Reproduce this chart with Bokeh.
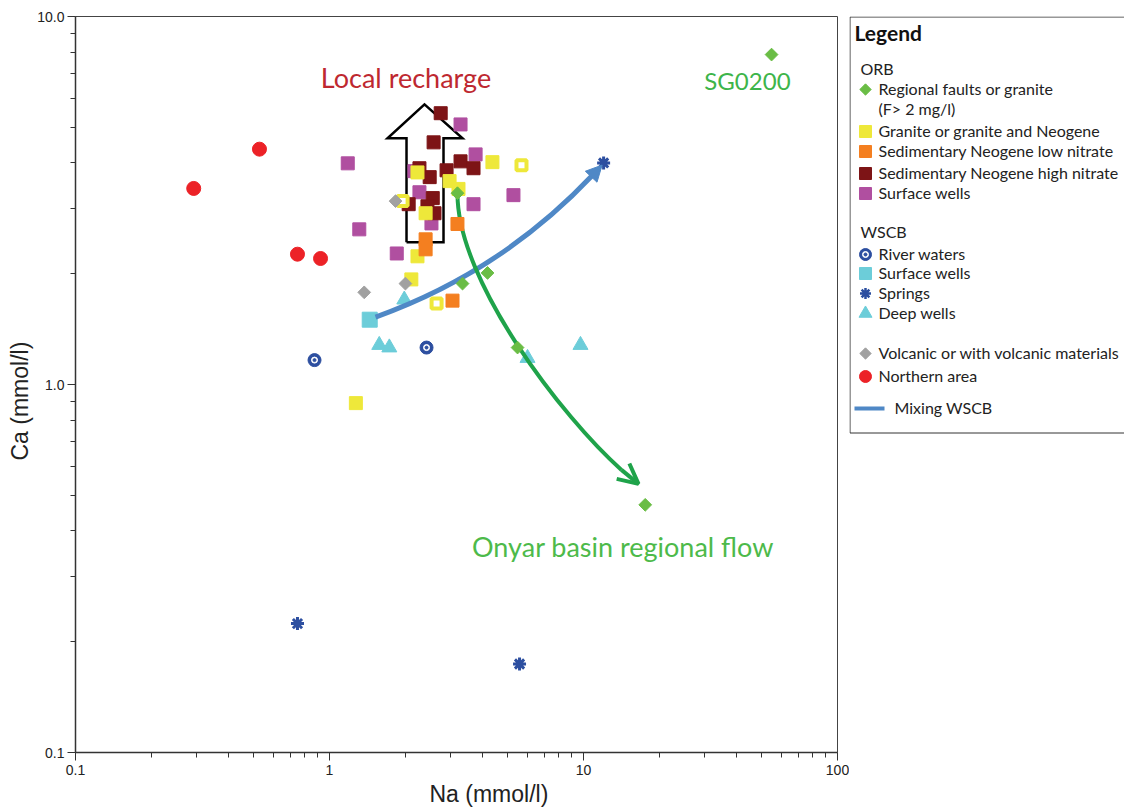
import math
from bokeh.plotting import figure
from bokeh.layouts import row
from bokeh.models import (Range1d, FixedTicker, CustomJSTickFormatter, Label, Arrow,
                          NormalHead, OpenHead, Title)
from bokeh.core.properties import value
from bokeh.embed import file_html
from bokeh.resources import INLINE

# ---------------- data (Na, Ca in mmol/l) ----------------
regional_na = [55.0, 17.5, 3.19, 4.19, 3.34, 5.50]
regional_ca = [7.88, 0.471, 3.31, 2.01, 1.88, 1.26]

granite_na = [1.27, 2.22, 2.10, 2.22, 2.97, 4.38, 3.22, 2.39]
granite_ca = [0.89, 2.23, 1.93, 3.77, 3.57, 4.02, 3.40, 2.92]

granite_open_na = [5.70, 2.64, 1.94]
granite_open_ca = [3.94, 1.66, 3.15]

sed_low_na = [3.19, 2.39, 2.39, 3.05]
sed_low_ca = [2.73, 2.48, 2.33, 1.69]

sed_high_na = [2.74, 2.57, 3.28, 3.69, 2.89, 2.26, 2.48, 2.55, 2.05, 2.43, 2.59]
sed_high_ca = [5.46, 4.55, 4.04, 3.87, 3.82, 3.87, 3.66, 3.21, 3.09, 3.05, 2.92]

orb_surface_na = [1.18, 1.31, 1.84, 2.26, 2.52, 3.28, 3.76, 3.69, 5.30, 2.16]
orb_surface_ca = [3.99, 2.64, 2.27, 3.33, 2.74, 5.09, 4.22, 3.09, 3.27, 3.80]

river_na = [0.873, 2.41]
river_ca = [1.165, 1.26]

wscb_surface_na = [1.44]
wscb_surface_ca = [1.50]

springs_na = [0.748, 5.60, 12.0]
springs_ca = [0.224, 0.174, 4.0]

deep_na = [1.97, 1.57, 1.72, 6.02, 9.73]
deep_ca = [1.70, 1.28, 1.26, 1.18, 1.28]

volcanic_na = [1.37, 1.99, 1.82]
volcanic_ca = [1.78, 1.88, 3.15]

northern_na = [0.292, 0.530, 0.748, 0.922]
northern_ca = [3.41, 4.36, 2.26, 2.20]

# mixing WSCB curve: start, control, end, arrow tip
mix_na = [1.518, 4.734, 10.85, 11.84]
mix_ca = [1.525, 2.020, 3.702, 3.947]

# Onyar basin regional flow curve: start, control 1, control 2, end, arrow tip
flow_na = [3.191, 3.191, 8.287, 14.11, 16.46]
flow_ca = [3.289, 1.910, 0.812, 0.586, 0.537]

# local recharge block arrow outline
recharge_na = [2.010, 2.010, 1.692, 2.366, 3.339, 2.811, 2.811, 2.010]
recharge_ca = [2.436, 4.667, 4.667, 5.770, 4.667, 4.667, 2.436, 2.436]

x_ticks = [0.1, 1, 10, 100]
y_ticks = [0.1, 1, 10]

# ---------------- colours ----------------
C_GREEN = "#6abd45"
C_YELLOW = "#eee83a"
C_ORANGE = "#f47f20"
C_DRED = "#7d1416"
C_MAG = "#b04fa0"
C_CYAN = "#6ccdd9"
C_DBLUE = "#2d4fa0"
C_GREY = "#a1a1a1"
C_RED = "#ec2227"
C_MIX = "#4f88c6"
C_FLOW = "#1fa34a"

FONT = "Lato"
AXFONT = "Liberation Sans"

p = figure(width=849, height=810, x_axis_type="log", y_axis_type="log",
           x_range=Range1d(0.1, 100), y_range=Range1d(0.1, 10),
           min_border_left=75, min_border_right=12, min_border_top=16,
           min_border_bottom=58, toolbar_location=None, output_backend="svg")
p.xgrid.visible = False
p.ygrid.visible = False
p.outline_line_color = "#444444"
p.outline_line_width = 1

minor_x = [m * d for d in (0.1, 1, 10) for m in range(2, 10)]
minor_y = [m * d for d in (0.1, 1) for m in range(2, 10)]
p.xaxis.ticker = FixedTicker(ticks=x_ticks, minor_ticks=minor_x)
p.yaxis.ticker = FixedTicker(ticks=y_ticks, minor_ticks=minor_y)
p.xaxis.formatter = CustomJSTickFormatter(code="return tick >= 1 ? tick.toFixed(0) : tick.toFixed(1);")
p.yaxis.formatter = CustomJSTickFormatter(code="return tick.toFixed(1);")
for ax in (p.xaxis, p.yaxis):
    ax.axis_line_color = "#333333"
    ax.axis_line_width = 1.5
    ax.major_tick_line_color = "#333333"
    ax.minor_tick_line_color = "#333333"
    ax.major_tick_in = 0
    ax.major_tick_out = 8
    ax.minor_tick_in = 0
    ax.minor_tick_out = 5
    ax.major_label_text_font = AXFONT
    ax.major_label_text_font_size = "14px"
    ax.major_label_text_color = "#222222"
p.xaxis.major_label_standoff = 4
p.yaxis.major_label_standoff = 3

# axis titles as offset titles (the reference places them off-centre)
p.add_layout(Title(text="Na (mmol/l)", align="left", offset=354, standoff=2,
                   text_font=AXFONT, text_font_size="23px", text_font_style="normal",
                   text_color="#222222"), "below")
p.add_layout(Title(text="Ca (mmol/l)", align="left", offset=292, standoff=4,
                   text_font=AXFONT, text_font_size="23px", text_font_style="normal",
                   text_color="#222222"), "left")

# markers drawn under the curves
p.scatter(deep_na, deep_ca, marker="triangle", size=15, color=C_CYAN)
p.scatter(wscb_surface_na, wscb_surface_ca, marker="square", size=15, color=C_CYAN)

# block arrow (local recharge)
p.line(recharge_na, recharge_ca, line_color="black", line_width=2.5, line_join="miter")

# curves
p.quadratic(x0=[mix_na[0]], y0=[mix_ca[0]], cx=[mix_na[1]], cy=[mix_ca[1]],
            x1=[mix_na[2]], y1=[mix_ca[2]], line_color=C_MIX, line_width=5)
p.add_layout(Arrow(x_start=mix_na[2], y_start=mix_ca[2], x_end=mix_na[3], y_end=mix_ca[3],
                   line_color=C_MIX, line_width=5,
                   end=NormalHead(size=16, fill_color=C_MIX, line_color=C_MIX, line_width=1)))
p.bezier(x0=[flow_na[0]], y0=[flow_ca[0]], cx0=[flow_na[1]], cy0=[flow_ca[1]],
         cx1=[flow_na[2]], cy1=[flow_ca[2]], x1=[flow_na[3]], y1=[flow_ca[3]],
         line_color=C_FLOW, line_width=4)
p.add_layout(Arrow(x_start=flow_na[3], y_start=flow_ca[3], x_end=flow_na[4], y_end=flow_ca[4],
                   line_color=C_FLOW, line_width=4,
                   end=OpenHead(size=20, line_color=C_FLOW, line_width=4)))

# points
p.scatter(orb_surface_na, orb_surface_ca, marker="square", size=13, color=C_MAG)
p.scatter(sed_high_na, sed_high_ca, marker="square", size=13, color=C_DRED)
p.scatter(granite_na, granite_ca, marker="square", size=13, color=C_YELLOW)
p.scatter(granite_open_na, granite_open_ca, marker="square", size=10, fill_color="white",
          line_color=C_YELLOW, line_width=4)
p.scatter(sed_low_na, sed_low_ca, marker="square", size=13, color=C_ORANGE)
p.scatter(regional_na, regional_ca, marker="square", angle=math.pi / 4, size=9, color=C_GREEN)
p.scatter(volcanic_na, volcanic_ca, marker="square", angle=math.pi / 4, size=9, color=C_GREY)
p.scatter(northern_na, northern_ca, marker="circle", size=14, color=C_RED)
p.scatter(river_na, river_ca, marker="circle", size=13, color=C_DBLUE)
p.scatter(river_na, river_ca, marker="circle", size=6, color="white")
p.scatter(river_na, river_ca, marker="circle", size=3, color=C_DBLUE)
p.scatter(springs_na, springs_ca, marker="asterisk", size=13, line_color=C_DBLUE, line_width=3)

# annotations
p.add_layout(Label(x=2.001, y=6.83, text="Local recharge", text_font=FONT, text_font_size="27px",
                   text_color="#be2830", text_align="center", text_baseline="alphabetic"))
p.add_layout(Label(x=44.2, y=6.70, text="SG0200", text_font=FONT, text_font_size="24px",
                   text_color="#3db54a", text_align="center", text_baseline="alphabetic"))
p.add_layout(Label(x=14.30, y=0.3622, text="Onyar basin regional flow", text_font=FONT,
                   text_font_size="27px", text_color="#4dba4a", text_align="center",
                   text_baseline="alphabetic"))

# ---------------- legend panel (pixel coordinates, frame aligned with main plot) ----------------
leg = figure(width=275, height=810, x_range=Range1d(849, 1124), y_range=Range1d(752, 16),
             min_border_left=0, min_border_right=0, min_border_top=16, min_border_bottom=58,
             toolbar_location=None, output_backend="svg",
             x_axis_location=None, y_axis_location=None, outline_line_color=None)
leg.xgrid.visible = False
leg.ygrid.visible = False
leg.line([1130, 849.5, 849.5, 1130], [16.5, 16.5, 432.5, 432.5], line_color="#333333", line_width=1)

leg.text([854], [32], text=["Legend"], text_font=value(FONT), text_font_size="21px",
         text_font_style="bold", text_color="#111111", text_baseline="middle")
leg.text([860, 860], [68, 231], text=["ORB", "WSCB"], text_font=value(FONT),
         text_font_size="16px", text_color="#222222", text_baseline="middle")

legend_labels = ["Regional faults or granite", "(F> 2 mg/l)", "Granite or granite and Neogene",
                 "Sedimentary Neogene low nitrate", "Sedimentary Neogene high nitrate",
                 "Surface wells", "River waters", "Surface wells", "Springs", "Deep wells",
                 "Volcanic or with volcanic materials", "Northern area"]
legend_rows = [88, 108, 130, 150, 172, 192, 253, 272, 292, 312, 352, 375]
leg.text([878] * len(legend_labels), legend_rows, text=legend_labels, text_font=value(FONT),
         text_font_size="16px", text_color="#222222", text_baseline="middle")
leg.text([894], [407], text=["Mixing WSCB"], text_font=value(FONT), text_font_size="16px",
         text_color="#222222", text_baseline="middle")

leg.scatter([865], [89], marker="square", angle=math.pi / 4, size=8, color=C_GREEN)
leg.scatter([865, 865, 865, 865], [131, 151, 173, 193], marker="square", size=12,
            color=[C_YELLOW, C_ORANGE, C_DRED, C_MAG])
leg.scatter([865], [254], marker="circle", size=12, color=C_DBLUE)
leg.scatter([865], [254], marker="circle", size=6, color="white")
leg.scatter([865], [254], marker="circle", size=3, color=C_DBLUE)
leg.scatter([865], [273], marker="square", size=12, color=C_CYAN)
leg.scatter([865], [293], marker="asterisk", size=11, line_color=C_DBLUE, line_width=2.5)
leg.scatter([865], [313], marker="triangle", size=13, color=C_CYAN)
leg.scatter([865], [353], marker="square", angle=math.pi / 4, size=8, color=C_GREY)
leg.scatter([865], [376], marker="circle", size=12, color=C_RED)
leg.line([854, 884], [408, 408], line_color=C_MIX, line_width=4)

layout = row(p, leg, spacing=0)
open("out.html", "w").write(file_html(layout, INLINE))
